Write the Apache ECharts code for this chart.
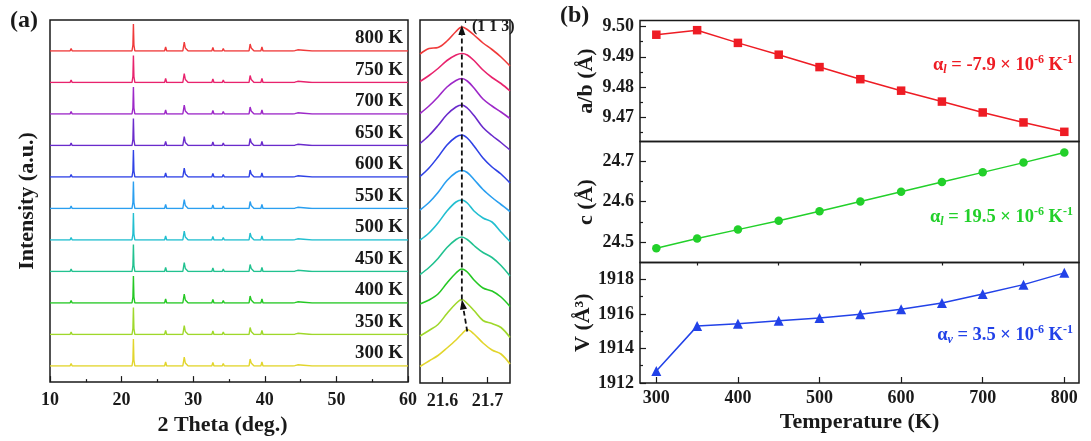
<!DOCTYPE html>
<html>
<head>
<meta charset="utf-8">
<script src="https://cdn.jsdelivr.net/npm/echarts@6/dist/echarts.min.js"></script>
<style>
  html, body { margin: 0; padding: 0; background: #fff; }
  #main { width: 1091px; height: 441px; }
</style>
</head>
<body>
<div id="main"></div>
<script>
// ---------- data ----------
const tempLabels = ['300 K', '350 K', '400 K', '450 K', '500 K', '550 K', '600 K', '650 K', '700 K', '750 K', '800 K'];
const tempColors = ['#e2d52c', '#9fd82b', '#25c824', '#22c290', '#22bfd0', '#2a9ff0', '#2f42e6', '#6a2bcc', '#9d28c8', '#e8236d', '#f03a3a'];

// XRD pattern (2 theta, intensity a.u.)
const xrdTheta = [10, 12.8, 12.95, 13.1, 21.45, 21.58, 21.65, 21.72, 21.85, 22.7, 22.8, 22.9, 26.0, 26.15, 26.3,
  28.55, 28.75, 28.9, 29.1, 29.3, 32.6, 32.75, 32.9, 34.05, 34.2, 34.35, 37.8, 37.95, 38.1, 38.3, 38.5,
  39.45, 39.6, 39.75, 43.9, 44.05, 44.2, 44.6, 44.75, 46.6, 46.7, 46.8, 48.3, 48.4, 48.5, 49.8, 49.9, 50.0,
  50.4, 50.5, 50.6, 51.0, 51.1, 51.2, 51.9, 52.0, 52.1, 53.6, 53.7, 53.8, 55.1, 55.2, 55.3, 56.0, 56.1, 56.2,
  57.1, 57.2, 57.3, 58.4, 58.5, 58.6, 59.7, 59.8, 59.9, 60];
const xrdIntensity = [0, 0, 2.5, 0, 0, 6, 27, 6, 0, 0, 1.2, 0, 0, 4, 0,
  0, 9, 3, 1, 0, 0, 3.5, 0, 0, 2.5, 0, 0, 7, 3, 1, 0,
  0, 4, 0, 0, 1.8, 0.3, 1.2, 0, 0, 0.8, 0, 0, 1.2, 0, 0, 1, 0,
  0, 1, 0, 0, 1, 0, 0, 0.8, 0, 0, 1.8, 0, 0, 0.8, 0, 0, 1.5, 0,
  0, 0.8, 0, 0, 1, 0, 0, 1.5, 0, 0];

// zoomed (1 1 3) reflection
const peakTheta = [21.55, 21.57, 21.59, 21.61, 21.63, 21.643, 21.655, 21.67, 21.69, 21.71, 21.73, 21.75];
const peak300K = [-0.5, 5, 10.5, 18, 26, 32, 36.5, 32, 23, 16, 12, 2];
const peak350K = [-1.5, 4, 10, 21, 31, 35, 31, 24, 14, 11, 7, -3];
const peak400K = [-1, 3, 9, 20, 30, 34, 31, 23, 15, 12, 6, -3.5];
const peak450K = [-3, 4, 13, 24, 32, 34.5, 32, 26, 19, 14, 6, -4.5];
const peak500K = [0, 7, 17, 29, 38, 40, 37, 29, 22, 18, 8, -1.5];
const peak550K = [-1.5, 6, 16, 28, 36, 38, 36, 29, 19, 11, 4, -3];
const peak600K = [0.5, 9, 20, 32, 40, 42, 39, 31, 19, 10, 3, -6];
const peak650K = [2, 10, 20, 31, 38.5, 40.5, 37.5, 30, 18, 10, 3, -4.5];
const peak700K = [0.5, 8, 17, 27, 33.5, 35.5, 33, 26, 15, 8, 2, -4.5];
const peak750K = [1, 7, 14, 22, 27.5, 29, 27.5, 22, 12.5, 5, -1, -8.5];
const peak800K = [-3, 2.5, 3.5, 10, 19.5, 24, 21.5, 16, 8, 1.5, -6, -15];
const peakProfiles = [peak300K, peak350K, peak400K, peak450K, peak500K, peak550K, peak600K, peak650K, peak700K, peak750K, peak800K];

// lattice parameters vs temperature
const temperature = [300, 350, 400, 450, 500, 550, 600, 650, 700, 750, 800];
const latticeAB = [9.4973, 9.4988, 9.4946, 9.4907, 9.4866, 9.4826, 9.4788, 9.4752, 9.4716, 9.4683, 9.4652];
const latticeC = [24.485, 24.509, 24.531, 24.553, 24.576, 24.600, 24.624, 24.648, 24.672, 24.696, 24.721];
const volume = [1912.7, 1915.29, 1915.43, 1915.6, 1915.76, 1915.97, 1916.26, 1916.63, 1917.15, 1917.69, 1918.37];

// ---------- layout / style ----------
const FONT = '"Liberation Serif", "Times New Roman", serif';
const INK = '#1a1a1a';
const RED = '#ee1c24', GREEN = '#22d02a', BLUE = '#2242e8';
const frame = { show: true, borderColor: INK, borderWidth: 1.5, backgroundColor: 'transparent' };
const tickStyle = { color: INK, width: 1.2 };
const labelStyle = { color: INK, fontFamily: FONT, fontWeight: 'bold', fontSize: 18 };
const nameStyle = { color: INK, fontFamily: FONT, fontWeight: 'bold', fontSize: 22 };

const grids = [], xAxes = [], yAxes = [], series = [];
function addGrid(g) { grids.push(g); return grids.length - 1; }
function addX(a) { xAxes.push(a); return xAxes.length - 1; }
function addY(a) { yAxes.push(a); return yAxes.length - 1; }

// panel (a) left frame
const gA = addGrid(Object.assign({ left: 50, top: 20, width: 358, height: 363 }, frame));
addX({ gridIndex: gA, type: 'value', min: 10, max: 60, interval: 10,
  axisLine: { show: false }, splitLine: { show: false },
  axisTick: { inside: true, length: 6, lineStyle: tickStyle },
  minorTick: { show: true, splitNumber: 2, length: 3, lineStyle: tickStyle },
  axisLabel: Object.assign({ margin: 9 }, labelStyle),
  name: '2 Theta (deg.)', nameLocation: 'middle', nameGap: 29,
  nameTextStyle: Object.assign({ padding: [0, 13, 0, 0] }, nameStyle) });
addY({ gridIndex: gA, type: 'value', min: 0, max: 1,
  axisLine: { show: false }, axisTick: { show: false }, axisLabel: { show: false }, splitLine: { show: false },
  name: 'Intensity (a.u.)', nameLocation: 'middle', nameGap: 12, nameTextStyle: nameStyle });

// panel (a) zoomed frame
const gZ = addGrid(Object.assign({ left: 420, top: 20, width: 90, height: 363 }, frame));
addX({ gridIndex: gZ, type: 'value', min: 21.55, max: 21.75,
  axisLine: { show: false }, splitLine: { show: false },
  axisTick: { inside: true, length: 6, lineStyle: tickStyle, customValues: [21.6, 21.7] },
  axisLabel: Object.assign({ margin: 9, customValues: [21.6, 21.7] }, labelStyle) });
addX({ gridIndex: gZ, type: 'value', min: 21.55, max: 21.75,
  axisLine: { show: false }, splitLine: { show: false }, axisLabel: { show: false },
  axisTick: { inside: true, length: 3, lineStyle: tickStyle, customValues: [21.65] } });
addY({ gridIndex: gZ, type: 'value', min: 0, max: 1, show: false });

// stacked rows (one grid per temperature, same rows for both sub-panels)
const rowStep = 31.5, firstBase = 366;
const leftRows = [], rightRows = [];
tempLabels.forEach(function (t, k) {
  const base = firstBase - rowStep * k;
  const gl = addGrid({ left: 50, top: base - 30, width: 358, height: 30 });
  const xl = addX({ gridIndex: gl, type: 'value', min: 10, max: 60, show: false });
  const yl = addY({ gridIndex: gl, type: 'value', min: 0, max: 30, show: false });
  leftRows.push(gl);
  series.push({ type: 'line', xAxisIndex: xl, yAxisIndex: yl, symbol: 'none', silent: true,
    lineStyle: { color: tempColors[k], width: 1.4 },
    data: xrdTheta.map(function (x, i) { return [x, xrdIntensity[i]]; }) });

  const gr = addGrid({ left: 420, top: base - 45, width: 90, height: 65 });
  const xr = addX({ gridIndex: gr, type: 'value', min: 21.55, max: 21.75, show: false });
  const yr = addY({ gridIndex: gr, type: 'value', min: -20, max: 45, show: false });
  rightRows.push(gr);
  series.push({ type: 'line', xAxisIndex: xr, yAxisIndex: yr, symbol: 'none', smooth: 0.35, silent: true,
    lineStyle: { color: tempColors[k], width: 1.6 },
    data: peakTheta.map(function (x, i) { return [x, peakProfiles[k][i]]; }) });
});

// panel (b)
function latticePanel(top, height, range, majors, minors, fmt, name, data, color, symbol, size, showX) {
  const g = addGrid(Object.assign({ left: 640, top: top, width: 439, height: height }, frame));
  let xi;
  if (showX) {
    xi = addX({ gridIndex: g, type: 'value', min: 280, max: 818,
      axisLine: { show: false }, splitLine: { show: false },
      axisTick: { inside: true, length: 6, lineStyle: tickStyle, customValues: [300, 400, 500, 600, 700, 800] },
      axisLabel: Object.assign({ margin: 6, customValues: [300, 400, 500, 600, 700, 800] }, labelStyle),
      name: 'Temperature (K)', nameLocation: 'middle', nameGap: 28, nameTextStyle: nameStyle });
    addX({ gridIndex: g, type: 'value', min: 280, max: 818,
      axisLine: { show: false }, splitLine: { show: false }, axisLabel: { show: false },
      axisTick: { inside: true, length: 3, lineStyle: tickStyle, customValues: [350, 450, 550, 650, 750] } });
  } else {
    xi = addX({ gridIndex: g, type: 'value', min: 280, max: 818, show: false });
  }
  const yi = addY({ gridIndex: g, type: 'value', position: 'left', min: range[0], max: range[1],
    axisLine: { show: false }, splitLine: { show: false },
    axisTick: { inside: true, length: 6, lineStyle: tickStyle, customValues: majors },
    axisLabel: Object.assign({ margin: 6, customValues: majors, formatter: fmt }, labelStyle),
    name: name, nameLocation: 'middle', nameGap: 43, nameTextStyle: nameStyle });
  addY({ gridIndex: g, type: 'value', position: 'left', min: range[0], max: range[1],
    axisLine: { show: false }, splitLine: { show: false }, axisLabel: { show: false },
    axisTick: { inside: true, length: 3, lineStyle: tickStyle, customValues: minors } });
  series.push({ type: 'line', xAxisIndex: xi, yAxisIndex: yi, symbol: symbol, symbolSize: size,
    lineStyle: { color: color, width: 1.5 }, itemStyle: { color: color },
    data: temperature.map(function (t, i) { return [t, data[i]]; }) });
}
latticePanel(20.5, 121, [9.462, 9.502], [9.47, 9.48, 9.49, 9.50], [9.465, 9.475, 9.485, 9.495],
  function (v) { return v.toFixed(2); }, 'a/b (Å)', latticeAB, RED, 'rect', 8.5, false);
latticePanel(141.5, 121, [24.45, 24.748], [24.5, 24.6, 24.7], [24.55, 24.65],
  function (v) { return v.toFixed(1); }, 'c (Å)', latticeC, GREEN, 'circle', 8.5, false);
latticePanel(262.5, 120.5, [1912, 1918.97], [1912, 1914, 1916, 1918], [1913, 1915, 1917],
  function (v) { return String(Math.round(v)); }, 'V (Å³)', volume, BLUE, 'triangle', 10, true);

const chart = echarts.init(document.getElementById('main'));
chart.setOption({
  backgroundColor: '#fff',
  animation: false,
  grid: grids,
  xAxis: xAxes,
  yAxis: yAxes,
  series: series
});

// ---------- annotations ----------
const gfx = [];
function txt(x, y, text, size, align) {
  gfx.push({ type: 'text', x: x, y: y, z: 10,
    style: { text: text, fill: INK, font: 'bold ' + size + 'px ' + FONT,
      align: align || 'left', verticalAlign: 'middle' } });
}
txt(10, 21, '(a)', 24);
txt(560, 16, '(b)', 24);
tempLabels.forEach(function (t, k) {
  const p = chart.convertToPixel({ gridIndex: leftRows[k] }, [60, 12.7]);
  txt(403, p[1], t, 19, 'right');
});
txt(472, 27, '(1 1 3)', 16);

function alpha(y, sub, val, color) {
  const base = { fontFamily: FONT, fontWeight: 'bold', fill: color, lineHeight: 22 };
  gfx.push({ type: 'text', x: 1073, y: y, z: 10,
    style: { text: '{a|α}{s|' + sub + '}{a| = ' + val + ' × 10}{p|-6}{a| K}{p|-1}',
      align: 'right', verticalAlign: 'middle', fill: color,
      rich: {
        a: Object.assign({ fontSize: 18.5, verticalAlign: 'middle' }, base),
        s: Object.assign({ fontSize: 12, fontStyle: 'italic', verticalAlign: 'bottom' }, base),
        p: Object.assign({ fontSize: 12, verticalAlign: 'top' }, base)
      } } });
}
alpha(65, 'l', '-7.9', RED);
alpha(217, 'l', '19.5', GREEN);
alpha(335, 'v', '3.5', BLUE);

// peak-shift arrows, anchored on the apex of the 300 K, 350 K and 800 K profiles
function apex(k) {
  const prof = peakProfiles[k];
  let m = 0;
  prof.forEach(function (v, i) { if (v > prof[m]) m = i; });
  return chart.convertToPixel({ gridIndex: rightRows[k] }, [peakTheta[m], prof[m]]);
}
function arrow(from, tip) {
  const ang = Math.atan2(tip[1] - from[1], tip[0] - from[0]);
  const L = 10, W = 3.5;
  const bx = tip[0] - L * Math.cos(ang), by = tip[1] - L * Math.sin(ang);
  gfx.push({ type: 'line', z: 9, shape: { x1: from[0], y1: from[1], x2: bx, y2: by },
    style: { stroke: '#111', lineWidth: 1.8, lineDash: [5, 3] } });
  gfx.push({ type: 'polygon', z: 9,
    shape: { points: [tip, [bx + W * Math.sin(ang), by - W * Math.cos(ang)], [bx - W * Math.sin(ang), by + W * Math.cos(ang)]] },
    style: { fill: '#111' } });
}
const a300 = apex(0), a350 = apex(1), a800 = apex(10);
arrow([a300[0], a300[1] + 2], [a350[0], a350[1]]);
arrow([a350[0], a350[1]], [a800[0], a800[1] - 2]);

chart.setOption({ graphic: gfx });
</script>
</body>
</html>
